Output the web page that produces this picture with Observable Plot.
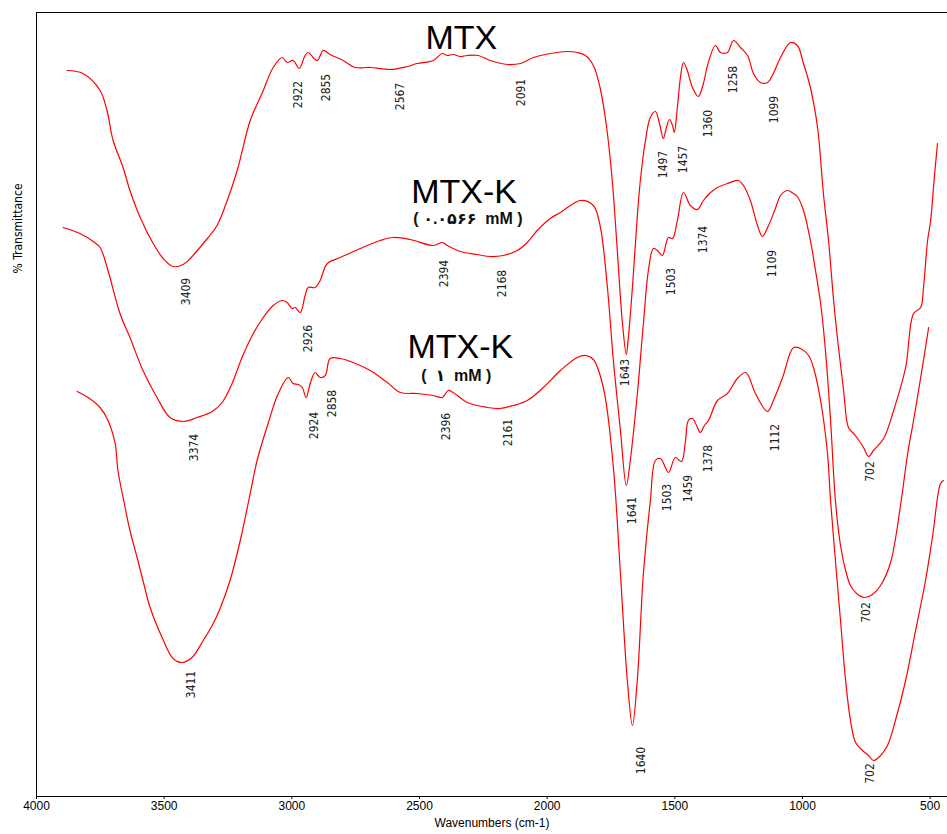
<!DOCTYPE html>
<html><head><meta charset="utf-8">
<script src="https://cdn.jsdelivr.net/npm/d3@7"></script>
<script src="https://cdn.jsdelivr.net/npm/@observablehq/plot@0.6"></script>
<style>body{margin:0;background:#fff}#chart svg{display:block}</style>
</head><body><div id="chart"></div>
<script>
// x ticks (wavenumbers, cm-1)
const xTicks = [4000, 3500, 3000, 2500, 2000, 1500, 1000, 500];

// MTX spectrum (wavenumber, transmittance in arbitrary offset units)
const mtxWave = [3880,3818,3751,3724,3700,3661,3634,3594,3543,3504,3465,3426,3398,3347,3293,3253,3214,3163,3124,3112,3073,3038,3018,2995,2971,2948,2936,2901,2877,2850,2799,2752,2693,2615,2548,2509,2446,2411,2391,2368,2340,2313,2270,2223,2156,2105,2054,1988,1921,1882,1850,1819,1792,1768,1745,1725,1705,1690,1682,1666,1647,1635,1615,1596,1576,1560,1545,1533,1521,1509,1502,1490,1478,1466,1451,1431,1408,1388,1372,1341,1321,1294,1270,1243,1215,1192,1165,1137,1114,1086,1047,1020,996,969,941,918,898,878,859,839,820,800,784,761,741,722,682,643,596,565,537,526,510,498,483,471];
const mtxT = [726,723,706,686,656,629,606,579,553,538,530,532,538,553,571,596,626,676,699,706,729,739,734,736,728,741,744,736,746,742,736,729,729,727,730,733,736,743,741,742,740,741,741,736,732,733,739,743,745,744,741,731,708,671,616,545,473,442,459,509,580,616,656,679,685,673,658,669,677,671,664,689,719,734,726,709,700,713,731,751,744,744,756,749,741,723,714,714,723,739,754,751,733,709,669,603,556,496,449,406,369,363,358,349,340,346,358,386,429,483,489,509,556,576,621,653];

// MTX-K (0.0566 mM)
const mtxk1Wave = [3896,3830,3778,3751,3720,3673,3634,3583,3528,3477,3426,3371,3312,3273,3234,3195,3155,3112,3073,3038,3018,2999,2987,2967,2948,2936,2909,2889,2861,2810,2732,2654,2603,2536,2446,2411,2391,2340,2274,2223,2172,2117,2078,2039,1988,1948,1909,1870,1819,1792,1764,1741,1713,1690,1674,1647,1623,1603,1584,1568,1549,1525,1509,1490,1466,1439,1411,1388,1360,1333,1294,1251,1231,1204,1176,1157,1133,1106,1086,1059,1035,1020,996,969,949,929,910,890,871,851,831,812,788,757,726,694,655,616,588,565,537,518,506];
const mtxk1T = [569,563,555,549,526,483,459,426,399,379,375,379,385,394,413,439,461,479,491,496,494,488,489,484,501,509,509,516,533,539,548,556,559,557,551,554,551,545,542,540,541,546,554,566,578,584,591,596,591,570,509,437,366,311,337,402,473,527,548,546,541,559,558,576,604,591,587,596,604,609,613,616,611,596,571,560,571,588,601,606,603,600,586,556,526,493,446,376,296,251,226,211,203,199,202,211,234,291,343,376,419,449,469];

// MTX-K (1 mM)
const mtxk2Wave = [3841,3798,3751,3720,3692,3681,3653,3634,3606,3583,3555,3508,3465,3430,3391,3347,3312,3281,3242,3202,3163,3136,3093,3053,3014,2995,2975,2959,2944,2928,2909,2889,2869,2850,2810,2760,2693,2626,2575,2509,2446,2411,2387,2368,2313,2234,2184,2133,2078,2015,1948,1882,1850,1819,1780,1741,1713,1686,1666,1647,1623,1596,1576,1556,1525,1498,1474,1458,1447,1431,1415,1400,1384,1368,1333,1294,1255,1223,1212,1184,1137,1114,1078,1035,1008,976,957,929,902,890,871,851,831,812,792,765,741,722,694,667,636,596,557,518,490,459,447];
const mtxk2T = [405,399,389,376,353,326,289,266,239,216,189,159,138,134,139,156,171,188,216,256,303,336,373,403,419,413,412,409,399,413,424,419,421,438,438,434,426,414,404,403,401,399,406,404,394,389,388,391,396,409,426,439,441,437,409,330,223,116,71,116,223,295,336,338,324,339,335,356,376,378,371,364,371,376,396,403,418,424,421,403,385,396,419,449,448,441,429,396,343,296,236,176,116,76,54,46,41,36,41,51,76,116,166,216,261,313,316];

// peak annotations (text, and where they sit in data units)
const mtxPeaks = [
  {t:"3409", x:3414, y:505}, {t:"2922", x:2975, y:702}, {t:"2855", x:2865, y:709},
  {t:"2567", x:2575, y:700}, {t:"2091", x:2101, y:704}, {t:"1643", x:1694, y:424},
  {t:"1497", x:1545, y:632}, {t:"1457", x:1466, y:637}, {t:"1360", x:1368, y:673},
  {t:"1258", x:1270, y:717}, {t:"1099", x:1110, y:687}, {t:"702", x:733, y:325}
];
const mtxk1Peaks = [
  {t:"3374", x:3383, y:349}, {t:"2926", x:2936, y:458}, {t:"2394", x:2403, y:523},
  {t:"2168", x:2176, y:513}, {t:"1641", x:1666, y:286}, {t:"1503", x:1513, y:515},
  {t:"1374", x:1388, y:557}, {t:"1109", x:1117, y:533}, {t:"702", x:749, y:184}
];
const mtxk2Peaks = [
  {t:"3411", x:3394, y:112}, {t:"2924", x:2912, y:371}, {t:"2858", x:2842, y:393},
  {t:"2396", x:2395, y:370}, {t:"2161", x:2152, y:364}, {t:"1640", x:1631, y:36},
  {t:"1503", x:1529, y:299}, {t:"1459", x:1447, y:308}, {t:"1378", x:1368, y:338},
  {t:"1112", x:1106, y:359}, {t:"702", x:733, y:23}
];

// sample titles
const titles = [
  {t:"MTX", x:2336, y:758}, {t:"MTX-K", x:2325, y:604}, {t:"MTX-K", x:2340, y:449}
];
const subtitles = [
  {t:"(\u00a0۰.۰۵۶۶\u00a0\u00a0mM\u00a0)", x:2310, y:578}, {t:"(\u00a0\u00a0۱\u00a0\u00a0mM\u00a0)", x:2356, y:421}
];
const xLabel = "Wavenumbers (cm-1)";
const yLabel = "% Transmittance";

const rows = (w, t, s) => w.map((x, i) => ({x, y: t[i], s}));
const spectra = [
  ...rows(mtxWave, mtxT, "MTX"),
  ...rows(mtxk1Wave, mtxk1T, "MTX-K 0.0566"),
  ...rows(mtxk2Wave, mtxk2T, "MTX-K 1")
];
const peaks = [...mtxPeaks, ...mtxk1Peaks, ...mtxk2Peaks];
const narrow = "'Liberation Sans Narrow','DejaVu Sans Condensed',sans-serif";
const sans = "'Liberation Sans',Arial,sans-serif";

const chart = Plot.plot({
  width: 947, height: 834,
  marginLeft: 36, marginRight: 0, marginTop: 12, marginBottom: 38,
  style: {fontFamily: sans, fontSize: "12px", background: "#fff", color: "#000"},
  x: {domain: [4000, 432]},
  y: {domain: [0, 784], axis: null},
  marks: [
    Plot.ruleY([784], {stroke: "#000", strokeWidth: 1}),
    Plot.ruleX([4000], {stroke: "#000", strokeWidth: 1}),
    Plot.ruleY([0], {stroke: "#000", strokeWidth: 1}),
    Plot.axisX({ticks: xTicks, tickSize: 3, tickPadding: 2, tickFormat: d => String(d), label: null, fontFamily: sans, fontSize: 12}),
    Plot.text([xLabel], {frameAnchor: "bottom", dy: 30, fontFamily: sans, fontSize: 12}),
    Plot.text([yLabel], {x: 4000, y: 568, dx: -18, rotate: -90, fontFamily: narrow, fontSize: 12}),
    Plot.line(spectra, {x: "x", y: "y", z: "s", curve: "catmull-rom", stroke: "#ff0000", strokeWidth: 1.2}),
    Plot.text(peaks, {x: "x", y: "y", text: "t", rotate: -90, fontFamily: narrow, fontSize: 12, fill: "#222"}),
    Plot.text(titles, {x: "x", y: "y", text: "t", fontFamily: sans, fontSize: 34, fill: "#000"}),
    Plot.text(subtitles, {x: "x", y: "y", text: "t", fontFamily: "'Liberation Sans','DejaVu Sans',sans-serif", fontSize: 16, fontWeight: "bold", fill: "#111"})
  ]
});
document.getElementById("chart").append(chart);
</script>
</body></html>
